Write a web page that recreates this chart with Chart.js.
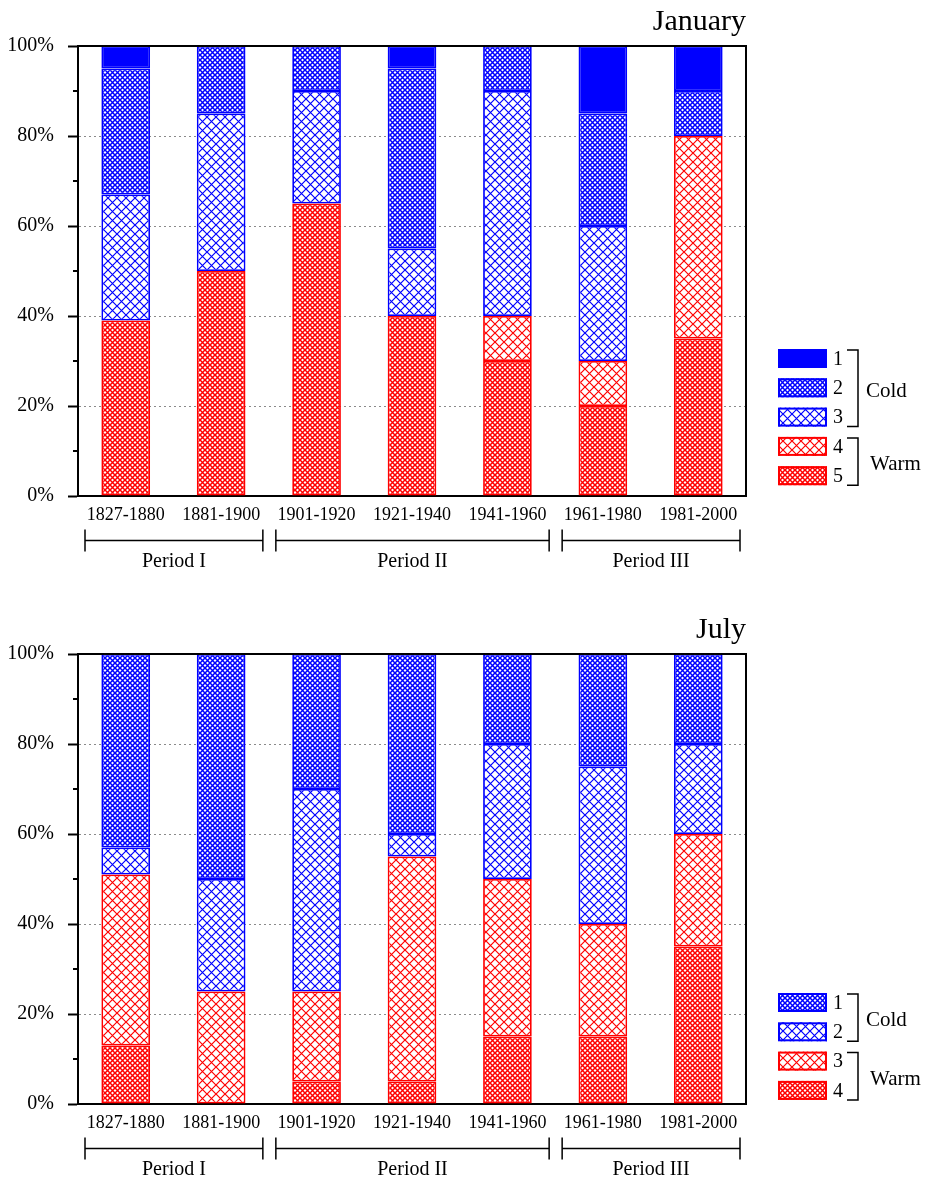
<!DOCTYPE html>
<html>
<head>
<meta charset="utf-8">
<script src="https://cdn.jsdelivr.net/npm/chart.js@4/dist/chart.umd.min.js"></script>
<style>
  html, body { margin: 0; padding: 0; background: #fff; }
  #wrap { position: relative; width: 934px; height: 1182px; }
  canvas { position: absolute; left: 0; }
</style>
</head>
<body>
<div id="wrap">
  <canvas id="jan" width="934" height="608" style="top:0"></canvas>
  <canvas id="jul" width="934" height="574" style="top:608px"></canvas>
</div>
<script>
// Time intervals on the x axis and the periods that group them
const intervals = ['1827-1880', '1881-1900', '1901-1920', '1921-1940', '1941-1960', '1961-1980', '1981-2000'];
const periodNames = ['Period I', 'Period II', 'Period III'];
const periodSpans = [[0, 1], [2, 4], [5, 6]];
const yTickValues = [0, 20, 40, 60, 80, 100];

// January: share of each class (%)
const janClassLabels = ['1', '2', '3', '4', '5'];
const janClass1 = [5, 0, 0, 5, 0, 15, 10];
const janClass2 = [28, 15, 10, 40, 10, 25, 10];
const janClass3 = [28, 35, 25, 15, 50, 30, 0];
const janClass4 = [0, 0, 0, 0, 10, 10, 45];
const janClass5 = [39, 50, 65, 40, 30, 20, 35];

// July: share of each class (%)
const julClassLabels = ['1', '2', '3', '4'];
const julClass1 = [43, 50, 30, 40, 20, 25, 20];
const julClass2 = [6, 25, 45, 5, 30, 35, 20];
const julClass3 = [38, 25, 20, 50, 35, 25, 25];
const julClass4 = [13, 0, 5, 5, 15, 15, 35];

const BLUE = '#0000ff';
const RED = '#ff0000';
const SERIF = '"Liberation Serif", "Times New Roman", serif';

// Cross-hatch fill on a white ground
function hatch(color, size, lw) {
  const c = document.createElement('canvas');
  c.width = size; c.height = size;
  const g = c.getContext('2d');
  g.fillStyle = '#fff';
  g.fillRect(0, 0, size, size);
  g.strokeStyle = color;
  g.lineWidth = lw;
  g.beginPath();
  g.moveTo(-1, -1); g.lineTo(size + 1, size + 1);
  g.moveTo(-1, size + 1); g.lineTo(size + 1, -1);
  g.stroke();
  return g.createPattern(c, 'repeat');
}

const blueDense = hatch(BLUE, 5, 1.5);
const blueSparse = hatch(BLUE, 9, 1.2);
const redDense = hatch(RED, 5, 1.5);
const redSparse = hatch(RED, 9, 1.2);

function series(label, data, fill, border) {
  return {
    label, data,
    backgroundColor: fill,
    borderColor: border,
    borderWidth: ctx => (ctx.raw ? 1.8 : 0),
    borderSkipped: false,
    barPercentage: 0.51,
    categoryPercentage: 1
  };
}

// Frame, minor ticks, title, period brackets and the grouped legend
const decor = {
  id: 'decor',
  afterDraw(chart, args, o) {
    const { ctx, chartArea: a, scales: { x, y } } = chart;
    ctx.save();
    ctx.strokeStyle = '#000';
    ctx.fillStyle = '#000';
    ctx.lineWidth = 2;
    ctx.beginPath();
    ctx.moveTo(a.left - 1, a.top);
    ctx.lineTo(a.right, a.top);
    ctx.lineTo(a.right, a.bottom + 1);
    ctx.stroke();

    for (let v = 10; v < 100; v += 20) {
      const py = y.getPixelForValue(v);
      ctx.beginPath();
      ctx.moveTo(a.left - 5, py);
      ctx.lineTo(a.left, py);
      ctx.stroke();
    }

    ctx.font = '30px ' + SERIF;
    ctx.textAlign = 'right';
    ctx.textBaseline = 'alphabetic';
    ctx.fillText(o.title, a.right, 30);

    const half = (x.getPixelForValue(1) - x.getPixelForValue(0)) / 2;
    const by = a.bottom + 44.5;
    ctx.lineWidth = 1.5;
    ctx.font = '20px ' + SERIF;
    ctx.textAlign = 'center';
    ctx.textBaseline = 'middle';
    periodSpans.forEach((sp, i) => {
      const l = x.getPixelForValue(sp[0]) - half + 7;
      const r = x.getPixelForValue(sp[1]) + half - 6;
      ctx.beginPath();
      ctx.moveTo(l, by); ctx.lineTo(r, by);
      ctx.moveTo(l, by - 11); ctx.lineTo(l, by + 11);
      ctx.moveTo(r, by - 11); ctx.lineTo(r, by + 11);
      ctx.stroke();
      ctx.fillText(periodNames[i], (l + r) / 2, by + 21);
    });

    const step = 29.3;
    const items = chart.data.datasets.slice().reverse();
    items.forEach((d, i) => {
      const top = o.legendTop + i * step;
      ctx.fillStyle = d.backgroundColor;
      ctx.fillRect(778, top, 49, 19);
      ctx.strokeStyle = d.borderColor;
      ctx.lineWidth = 2;
      ctx.strokeRect(779, top + 1, 47, 17);
      ctx.fillStyle = '#000';
      ctx.font = '20px ' + SERIF;
      ctx.textAlign = 'left';
      ctx.textBaseline = 'middle';
      ctx.fillText(d.label, 833, top + 10.5);
    });

    ctx.strokeStyle = '#000';
    ctx.lineWidth = 1.5;
    o.groups.forEach(gr => {
      const t = o.legendTop + gr.from * step + 1;
      const b = o.legendTop + gr.to * step + 19;
      ctx.beginPath();
      ctx.moveTo(847, t); ctx.lineTo(858, t); ctx.lineTo(858, b); ctx.lineTo(847, b);
      ctx.stroke();
      ctx.font = '21px ' + SERIF;
      ctx.textAlign = 'left';
      ctx.textBaseline = 'middle';
      ctx.fillText(gr.name, gr.textX, (t + b) / 2 + 3);
    });
    ctx.restore();
  }
};

function options(title, legendTop, groups, bottomPad) {
  return {
    responsive: false,
    animation: false,
    devicePixelRatio: 1,
    layout: { padding: { left: 0, right: 188, top: 46, bottom: bottomPad } },
    plugins: {
      legend: { display: false },
      tooltip: { enabled: false },
      decor: { title, legendTop, groups }
    },
    scales: {
      x: {
        stacked: true,
        grid: { display: false },
        border: { display: true, color: '#000', width: 2 },
        ticks: { color: '#000', font: { family: SERIF, size: 18 }, padding: 0, maxRotation: 0, autoSkip: false },
        afterFit(s) { s.height = 60; }
      },
      y: {
        stacked: true,
        min: 0,
        max: 100,
        afterBuildTicks(s) { s.ticks = yTickValues.map(v => ({ value: v })); },
        ticks: { color: '#000', font: { family: SERIF, size: 20 }, padding: 14, callback: v => v + '%' },
        grid: {
          color: c => (c.tick && (c.tick.value === 0 || c.tick.value === 100)) ? 'rgba(0,0,0,0)' : '#8a8a8a',
          lineWidth: 1,
          tickColor: '#000',
          tickWidth: 2,
          tickLength: 10,
          tickBorderDash: []
        },
        border: { display: true, color: '#000', width: 2, dash: [2, 3] },
        afterFit(s) { s.width = 78; }
      }
    }
  };
}

new Chart(document.getElementById('jan'), {
  type: 'bar',
  data: {
    labels: intervals,
    datasets: [
      series(janClassLabels[4], janClass5, redDense, RED),
      series(janClassLabels[3], janClass4, redSparse, RED),
      series(janClassLabels[2], janClass3, blueSparse, BLUE),
      series(janClassLabels[1], janClass2, blueDense, BLUE),
      series(janClassLabels[0], janClass1, BLUE, BLUE)
    ]
  },
  options: options('January', 349, [
    { name: 'Cold', from: 0, to: 2, textX: 866 },
    { name: 'Warm', from: 3, to: 4, textX: 870 }
  ], 52),
  plugins: [decor]
});

new Chart(document.getElementById('jul'), {
  type: 'bar',
  data: {
    labels: intervals,
    datasets: [
      series(julClassLabels[3], julClass4, redDense, RED),
      series(julClassLabels[2], julClass3, redSparse, RED),
      series(julClassLabels[1], julClass2, blueSparse, BLUE),
      series(julClassLabels[0], julClass1, blueDense, BLUE)
    ]
  },
  options: options('July', 385, [
    { name: 'Cold', from: 0, to: 1, textX: 866 },
    { name: 'Warm', from: 2, to: 3, textX: 870 }
  ], 18),
  plugins: [decor]
});
</script>
</body>
</html>
